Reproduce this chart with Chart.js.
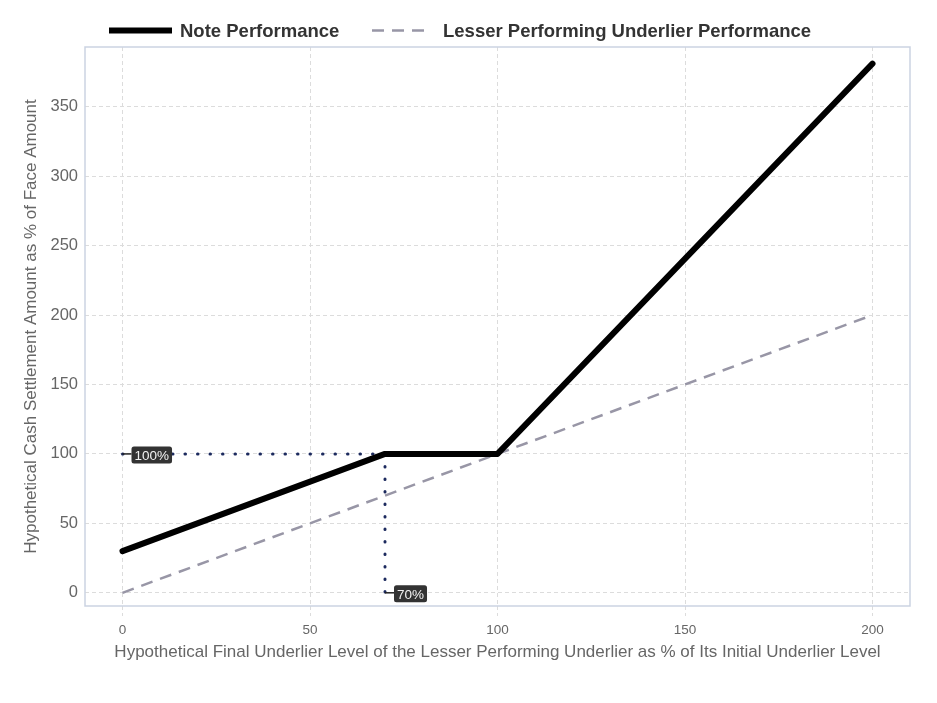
<!DOCTYPE html>
<html>
<head>
<meta charset="utf-8">
<script src="https://cdn.jsdelivr.net/npm/chart.js@4.4.1/dist/chart.umd.min.js"></script>
<style>
  html, body { margin: 0; padding: 0; background: #ffffff; }
  #wrap { width: 937px; height: 703px; position: relative; }
</style>
</head>
<body>
<div id="wrap"><canvas id="c" width="937" height="703"></canvas></div>
<script>
// ---- data ----
const noteX = [0, 70, 100, 200];
const noteY = [30, 100, 100, 381];
const underlierX = [0, 200];
const underlierY = [0, 200];
const guideX = [0, 70, 70];
const guideY = [100, 100, 0];
const annotX = [0, 70];
const annotY = [100, 0];
const annotText = ['100%', '70%'];
const xTicks = [0, 50, 100, 150, 200];
const yTicks = [0, 50, 100, 150, 200, 250, 300, 350];
const seriesNames = ['Note Performance', 'Lesser Performing Underlier Performance'];

const toPts = (xs, ys) => xs.map((x, i) => ({ x: x, y: ys[i] }));

const FONT = "'Liberation Sans', Arial, sans-serif";
const BORDER = '#cbd3e2';
const GRID = '#dcdcdc';
const DASHED = '#9896a6';

const frame = {
  id: 'frame',
  beforeDatasetsDraw(chart) {
    const a = chart.chartArea, ctx = chart.ctx;
    ctx.save();
    ctx.strokeStyle = BORDER;
    ctx.lineWidth = 1.5;
    ctx.strokeRect(a.left, a.top, a.right - a.left, a.bottom - a.top);
    ctx.restore();
  }
};

const labels = {
  id: 'labels',
  afterDatasetsDraw(chart) {
    const ctx = chart.ctx, xs = chart.scales.x, ys = chart.scales.y;
    ctx.save();
    ctx.font = '13.5px ' + FONT;
    annotText.forEach((t, i) => {
      const px = xs.getPixelForValue(annotX[i]);
      const py = ys.getPixelForValue(annotY[i]);
      const w = ctx.measureText(t).width + 6, h = 17, bx = px + 9;
      ctx.strokeStyle = '#222';
      ctx.lineWidth = 1.5;
      ctx.beginPath();
      ctx.moveTo(px, py);
      ctx.lineTo(bx, py);
      ctx.stroke();
      ctx.fillStyle = '#333333';
      ctx.beginPath();
      ctx.roundRect(bx, py - h / 2 + 1, w, h, 2.5);
      ctx.fill();
      ctx.fillStyle = '#f2f2f2';
      ctx.textBaseline = 'middle';
      ctx.textAlign = 'left';
      ctx.fillText(t, bx + 3, py + 2);
    });
    ctx.restore();
  }
};

const legend = {
  id: 'customLegend',
  afterDraw(chart) {
    const ctx = chart.ctx;
    ctx.save();
    const y = 30.5;
    ctx.lineCap = 'butt';
    ctx.strokeStyle = '#000';
    ctx.lineWidth = 6;
    ctx.beginPath(); ctx.moveTo(109, y); ctx.lineTo(172, y); ctx.stroke();
    ctx.strokeStyle = DASHED;
    ctx.lineWidth = 2.5;
    ctx.setLineDash([12, 8]);
    ctx.beginPath(); ctx.moveTo(372, y); ctx.lineTo(432, y); ctx.stroke();
    ctx.setLineDash([]);
    ctx.fillStyle = '#333333';
    ctx.font = 'bold 18.5px ' + FONT;
    ctx.textBaseline = 'middle';
    ctx.fillText(seriesNames[0], 180, y + 1);
    ctx.fillText(seriesNames[1], 443, y + 1);
    ctx.restore();
  }
};

new Chart(document.getElementById('c'), {
  type: 'line',
  data: {
    datasets: [
      { label: seriesNames[0], data: toPts(noteX, noteY), borderColor: '#000000', borderWidth: 6,
        pointRadius: 0, borderCapStyle: 'round', borderJoinStyle: 'round', tension: 0, order: 1 },
      { label: seriesNames[1], data: toPts(underlierX, underlierY), borderColor: DASHED, borderWidth: 2.5,
        borderDash: [12, 8], pointRadius: 0, tension: 0, order: 2 },
      { label: 'guide', data: toPts(guideX, guideY), borderColor: '#1c2a5e', borderWidth: 3,
        borderDash: [0.5, 12], borderCapStyle: 'round', pointRadius: 0, tension: 0, order: 3 }
    ]
  },
  options: {
    responsive: false,
    animation: false,
    layout: { padding: { top: 47, right: 27, left: 0, bottom: 0 } },
    plugins: { legend: { display: false }, tooltip: { enabled: false } },
    scales: {
      x: {
        type: 'linear', min: -10, max: 210,
        afterBuildTicks: s => { s.ticks = xTicks.map(v => ({ value: v })); },
        afterFit: s => { s.height = 97; },
        ticks: { color: '#666', font: { family: FONT, size: 13.5 }, padding: 6 },
        grid: { color: GRID, tickColor: GRID, tickLength: 10, tickBorderDash: [4, 3], drawTicks: true },
        border: { display: false, dash: [4, 3] },
        title: { display: true, text: 'Hypothetical Final Underlier Level of the Lesser Performing Underlier as % of Its Initial Underlier Level',
          color: '#666', font: { family: FONT, size: 17 }, padding: { top: 0, bottom: 40 } }
      },
      y: {
        type: 'linear', min: -9.5, max: 393,
        afterBuildTicks: s => { s.ticks = yTicks.map(v => ({ value: v })); },
        afterFit: s => { s.width = 85; },
        ticks: { color: '#666', font: { family: FONT, size: 16.5 }, padding: 7 },
        grid: { color: GRID, drawTicks: false },
        border: { display: false, dash: [4, 3] },
        title: { display: true, text: 'Hypothetical Cash Settlement Amount as % of Face Amount',
          color: '#666', font: { family: FONT, size: 17 }, padding: { top: 21, bottom: 0 } }
      }
    }
  },
  plugins: [frame, labels, legend]
});
</script>
</body>
</html>
